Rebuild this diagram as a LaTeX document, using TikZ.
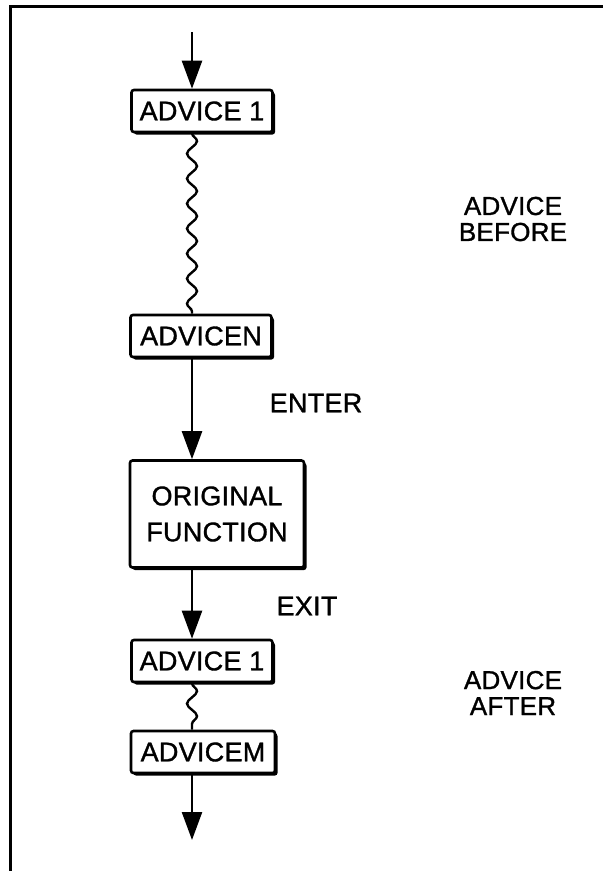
\documentclass[tikz,border=0pt]{standalone}
\usepackage{fontspec}
\setmainfont{Liberation Sans}[LetterSpace=1, FakeBold=1.2]
\usetikzlibrary{arrows.meta,decorations.pathmorphing,shadows}

\tikzset{
  advbox/.style={draw, fill=white, line width=2.6pt, rounded corners=2.5pt,
    inner sep=0pt, minimum width=141pt, minimum height=42pt,
    drop shadow={shadow xshift=2.5pt, shadow yshift=-2.5pt, fill=black, opacity=1}},
  flow/.style={line width=2.4pt, -{Triangle[width=20pt,length=28pt]}},
  wave/.style={line width=2.4pt, decorate,
    decoration={snake, amplitude=5pt, segment length=25pt}},
  side/.style={align=center, font=\fontsize{26}{26}\selectfont}
}

\begin{document}
\begin{tikzpicture}[x=1pt,y=-1pt,font=\fontsize{27}{36}\selectfont]
      \useasboundingbox (0,0) rectangle (603,871);
      % Moldura
      \draw[line width=3pt] (603,6) -- (10,6) -- (10,871);
      % Advice antes
      \node[advbox] (a1) at (202,111) {ADVICE 1};
      \node[advbox] (aN) at (201,336) {ADVICEN};
      % Funcao original
      \node[advbox, minimum width=174pt, minimum height=107pt, align=center]
        (orig) at (217,514) {ORIGINAL\\FUNCTION};
      % Advice depois
      \node[advbox] (b1) at (202,661) {ADVICE 1};
      \node[advbox, minimum width=144pt] (bM) at (203,752) {ADVICEM};
      \coordinate (in) at (192,32);
      \coordinate (out) at (192,840);

      % Fluxo
      \draw[flow] (in) -- (in |- a1.north);
      \draw[wave] (a1.south -| in) -- (aN.north -| in);
      \draw[flow] (aN.south -| in) -- (orig.north -| in);
      \draw[flow] (orig.south -| in) -- (b1.north -| in);
      \draw[wave] (b1.south -| in) -- (bM.north -| in);
      \draw[flow] (bM.south -| in) -- (out);

      % Rotulos
      \node (enter) at (316,403) {ENTER};
      \node (exit) at (307,606) {EXIT};
      \node[side] (before) at (513,219) {ADVICE\\BEFORE};
      \node[side] (after) at (513,693) {ADVICE\\AFTER};
\end{tikzpicture}
\end{document}
